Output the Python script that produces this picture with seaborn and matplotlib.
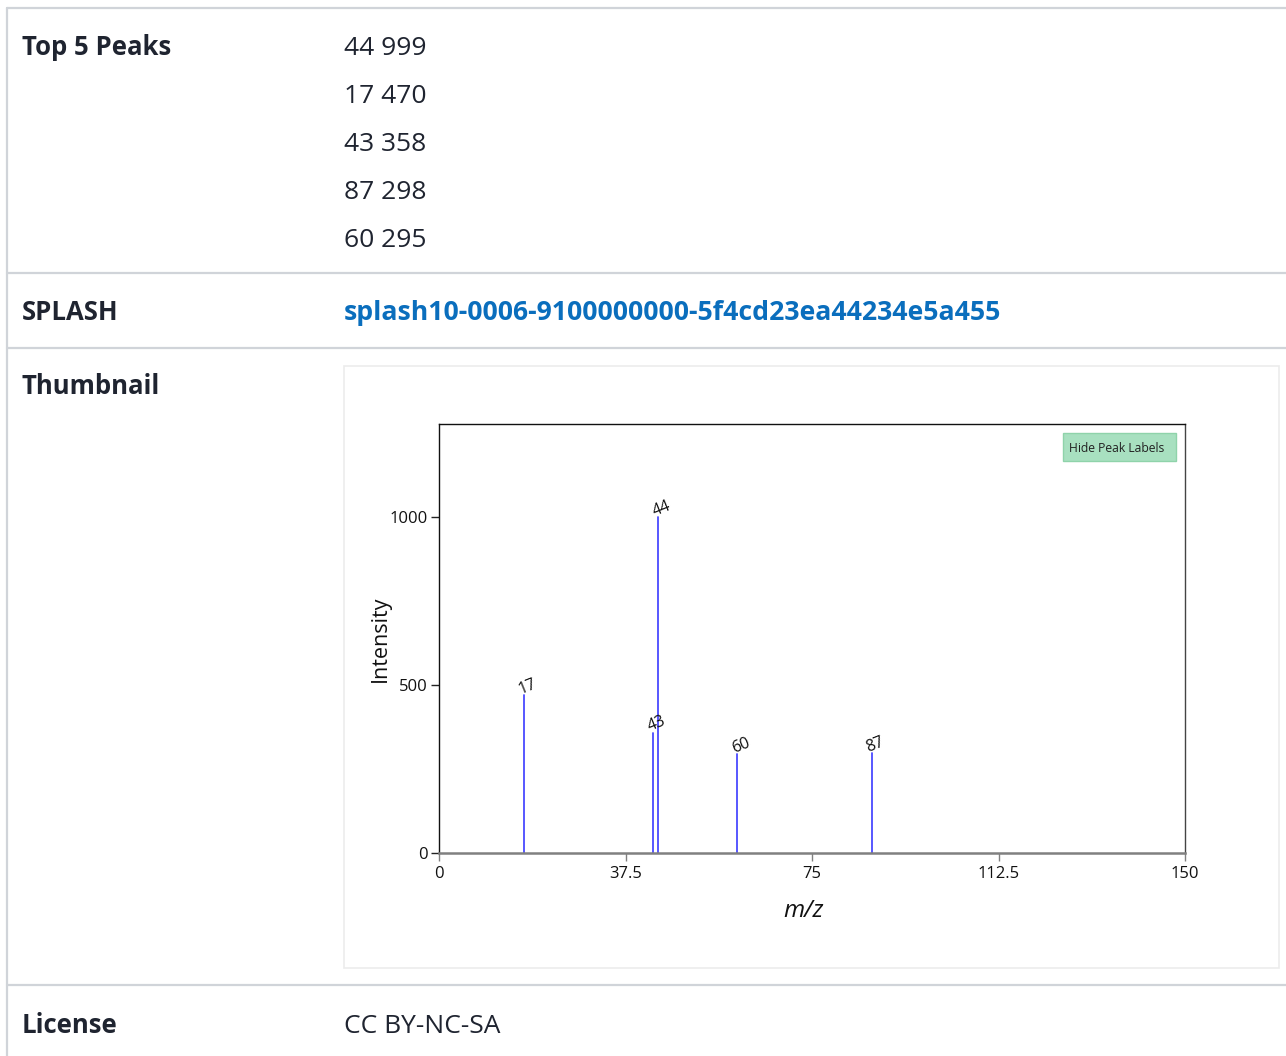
import matplotlib
matplotlib.use("Agg")
import matplotlib.pyplot as plt
from matplotlib.patches import Rectangle, FancyBboxPatch
from matplotlib.lines import Line2D
import seaborn as sns
import pandas as pd

# ---- data ----
peak_mz = [17, 43, 44, 60, 87]
peak_intensity = [470, 358, 999, 295, 298]
top5_mz = [44, 17, 43, 87, 60]
top5_intensity = [999, 470, 358, 298, 295]
splash_key = "splash10-0006-9100000000-5f4cd23ea44234e5a455"
license_text = "CC BY-NC-SA"
x_ticks = [0, 37.5, 75, 112.5, 150]
x_tick_labels = ["0", "37.5", "75", "112.5", "150"]
y_ticks = [0, 500, 1000]

sns.set_theme(style="white")
plt.rcParams["font.family"] = ["Open Sans", "Noto Sans", "DejaVu Sans"]

W, H = 1286, 1056
fig = plt.figure(figsize=(W / 100, H / 100), dpi=100)
fig.patch.set_facecolor("white")


def fx(x):
    return x / W


def fy(y):
    return 1 - y / H


TEXT = "#1f2430"
BORDER = "#d0d4d9"

# table borders
fig.add_artist(Line2D([fx(7), fx(W)], [fy(8), fy(8)], color=BORDER, lw=1.6))
fig.add_artist(Line2D([fx(7), fx(7)], [fy(8), fy(H)], color=BORDER, lw=1.6))
for yy in (273, 348, 985):
    fig.add_artist(Line2D([fx(7), fx(W)], [fy(yy), fy(yy)], color=BORDER, lw=1.6))

# row labels
label_kw = dict(fontsize=18.5, fontweight="bold", color=TEXT, va="baseline", ha="left")
fig.text(fx(22), fy(55), "Top 5 Peaks", **label_kw)
fig.text(fx(22), fy(320), "SPLASH", **label_kw)
fig.text(fx(22), fy(394), "Thumbnail", **label_kw)
fig.text(fx(22), fy(1033), "License", **label_kw)

# top peak list
for i, (m, v) in enumerate(zip(top5_mz, top5_intensity)):
    fig.text(fx(344), fy(55 + 48 * i), f"{m} {v}", fontsize=19, color=TEXT,
             va="baseline", ha="left")

fig.text(fx(344), fy(320), splash_key, fontsize=19.2, color="#0a6ebd",
         fontweight="bold", va="baseline", ha="left")
fig.text(fx(344), fy(1033), license_text, fontsize=19, color=TEXT,
         va="baseline", ha="left")

# thumbnail frame
frame = Rectangle((fx(344), fy(968)), fx(1279 - 344), (968 - 366) / H,
                  transform=fig.transFigure, facecolor="white",
                  edgecolor="#ececec", lw=1.2, zorder=-5)
fig.add_artist(frame)

# spectrum axes
ax = fig.add_axes([fx(439), fy(853), fx(1185 - 439), (853 - 424) / H])
ax.set_zorder(5)
ax.set_facecolor("white")

rows = []
for m, v in zip(peak_mz, peak_intensity):
    rows.append({"peak": m, "mz": m, "intensity": 0})
    rows.append({"peak": m, "mz": m, "intensity": v})
df = pd.DataFrame(rows)

sns.lineplot(data=df, x="mz", y="intensity", units="peak", estimator=None,
             sort=False, color="#4a4aff", lw=1.3, ax=ax, legend=False)

for m, v in zip(peak_mz, peak_intensity):
    ax.text(m - 0.6, v + 4, str(m), rotation=22, rotation_mode="anchor",
            ha="left", va="baseline", fontsize=11.5, color="#111111")

ax.set_xlim(0, 150)
ax.set_ylim(0, 1277)
ax.set_xticks(x_ticks)
ax.set_xticklabels(x_tick_labels)
ax.set_yticks(y_ticks)
ax.tick_params(axis="x", length=6, width=1, color="#808080", labelsize=12,
               labelcolor="#111111", pad=3, bottom=True)
ax.tick_params(axis="y", length=6, width=1, color="#222222", labelsize=12,
               labelcolor="#111111", pad=2, left=True)
ax.set_xlabel("m/z", fontsize=17.5, style="italic", color="#111111")
ax.xaxis.set_label_coords((804 - 439) / 746, -(911 - 853) / 429)
ax.xaxis.label.set_va("center")
ax.set_ylabel("Intensity", fontsize=15.5, color="#111111", labelpad=-1)

for side in ("top", "left", "right"):
    ax.spines[side].set_color("#111111")
    ax.spines[side].set_linewidth(1.0)
ax.spines["right"].set_color("#444444")
ax.spines["bottom"].set_color("#808080")
ax.spines["bottom"].set_linewidth(1.8)

# "Hide Peak Labels" button
btn = FancyBboxPatch((fx(1063), fy(461)), fx(1176 - 1063), (461 - 433) / H,
                     boxstyle="square,pad=0", transform=fig.transFigure,
                     facecolor="#a8e0c0", edgecolor="#8fd3aa", lw=1.0, zorder=10)
fig.add_artist(btn)
fig.text(fx(1117), fy(448), "Hide Peak Labels", fontsize=8.7, color="#222222",
         ha="center", va="center", zorder=11)

fig.savefig("out.png", dpi=100, facecolor="white")
